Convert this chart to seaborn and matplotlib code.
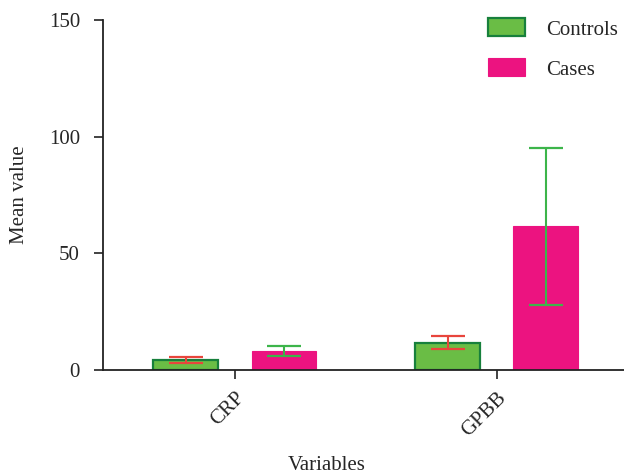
import pandas as pd
import numpy as np
import matplotlib
matplotlib.use("Agg")
import matplotlib.pyplot as plt
import seaborn as sns

# values
variables = ["CRP", "GPBB"]
groups = ["Controls", "Cases"]
controls_mean = [4.3, 11.7]
controls_sd = [1.2, 2.8]
cases_mean = [8.1, 61.5]
cases_sd = [2.0, 33.8]

sns.set_theme(style="ticks")
plt.rcParams['font.family'] = ['Liberation Serif', 'DejaVu Serif']

df = pd.DataFrame({
    "Variables": variables * 2,
    "Group": [groups[0]] * 2 + [groups[1]] * 2,
    "Mean": controls_mean + cases_mean,
    "SD": controls_sd + cases_sd,
})

fill_colors = {"Controls": "#6abd45", "Cases": "#ec1380"}
edge_colors = {"Controls": "#17803c", "Cases": "#ec1380"}
err_colors = {"Controls": "#e8453c", "Cases": "#3cb54a"}

fig = plt.figure(figsize=(6.24, 4.76), dpi=100)
ax = fig.add_axes([0.165, 0.2227, 0.835, 0.7353])

sns.barplot(data=df, x="Variables", y="Mean", hue="Group", order=variables,
            hue_order=groups, palette=fill_colors, saturation=1, width=0.75,
            gap=0.34, errorbar=None, ax=ax, linewidth=0)

# outline + error bars per hue container
for cont, g in zip(ax.containers, groups):
    sub = df[df["Group"] == g].set_index("Variables").loc[variables]
    xs = [p.get_x() + p.get_width() / 2 for p in cont.patches]
    for p in cont.patches:
        p.set_edgecolor(edge_colors[g])
        p.set_linewidth(1.6 if g == "Controls" else 0.8)
    ax.errorbar(xs, sub["Mean"], yerr=sub["SD"], fmt="none",
                ecolor=err_colors[g], elinewidth=1.5, capsize=12,
                capthick=1.6, zorder=5)

ax.set_xlim(-0.504, 1.486)
ax.set_ylim(0, 150)
ax.set_yticks([0, 50, 100, 150])
ax.tick_params(axis="both", labelsize=15, length=6.5, width=1.2, color="#222222")
ax.tick_params(axis="y", pad=10)
ax.tick_params(axis="x", pad=7)
plt.setp(ax.get_xticklabels(), rotation=45, ha="right", rotation_mode="anchor")

sns.despine(ax=ax)
for s in ["left", "bottom"]:
    ax.spines[s].set_linewidth(1.3)
    ax.spines[s].set_color("#222222")

ax.set_ylabel("Mean value", fontsize=15, labelpad=14)
ax.set_xlabel("Variables", fontsize=15)
ax.xaxis.set_label_coords(0.43, -0.245)

leg = ax.legend(loc="upper right", bbox_to_anchor=(1.012, 1.04), frameon=False,
                fontsize=15, handlelength=1.8, handleheight=0.95,
                labelspacing=0.9, handletextpad=1.0, borderaxespad=0.2)
for h, g in zip(leg.legend_handles, groups):
    h.set_edgecolor(edge_colors[g])
    h.set_linewidth(1.6 if g == "Controls" else 0.8)

fig.savefig("out.png", dpi=100)
